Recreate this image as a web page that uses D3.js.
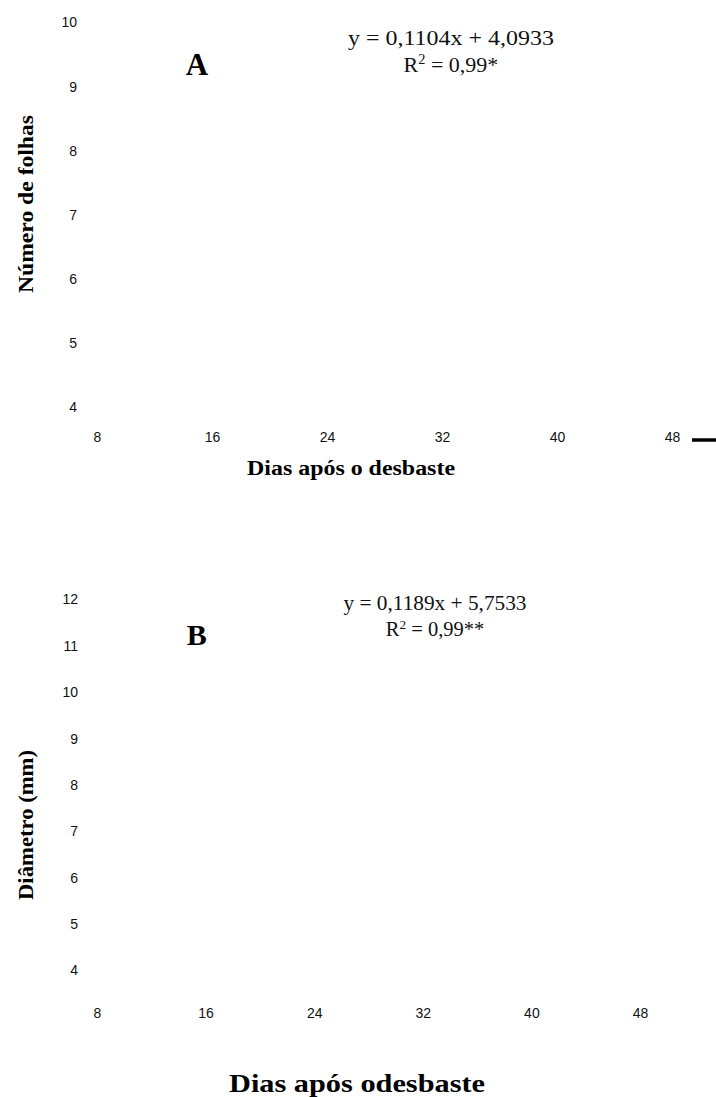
<!DOCTYPE html>
<html>
<head>
<meta charset="utf-8">
<script src="https://cdn.jsdelivr.net/npm/d3@7"></script>
<style>
  html, body { margin: 0; padding: 0; background: #fff; }
  svg { display: block; }
</style>
</head>
<body>
<svg id="chart" width="716" height="1097"></svg>
<script>
// ---- data ----
const xTicks = [8, 16, 24, 32, 40, 48];
const yTicksA = [4, 5, 6, 7, 8, 9, 10];
const yTicksB = [4, 5, 6, 7, 8, 9, 10, 11, 12];
const panelLabels = ["A", "B"];
const equations = ["y = 0,1104x + 4,0933", "y = 0,1189x + 5,7533"];
const r2Labels = ["0,99*", "0,99**"];
const yTitles = ["Número de folhas", "Diâmetro (mm)"];
const xTitles = ["Dias após o desbaste", "Dias após odesbaste"];

const svg = d3.select("#chart");
const serif = "'Liberation Serif', 'Times New Roman', serif";
const sans = "'Liberation Sans', Arial, Helvetica, sans-serif";

function panel(cfg) {
  const x = d3.scaleLinear().domain([8, 48]).range(cfg.xRange);
  const y = d3.scaleLinear().domain(cfg.yDomain).range(cfg.yRange);

  // y axis (labels only)
  const gy = svg.append("g")
    .attr("transform", `translate(${cfg.yAxisX},0)`)
    .call(d3.axisLeft(y).tickValues(cfg.yTicks).tickSize(0).tickPadding(0).tickFormat(d3.format("d")));
  gy.select(".domain").remove();
  gy.selectAll("text").attr("font-family", sans).attr("font-size", 14).attr("fill", "#111").attr("dy", "0.35em");

  // x axis (labels only)
  const gx = svg.append("g")
    .attr("transform", `translate(0,${cfg.xAxisY})`)
    .call(d3.axisBottom(x).tickValues(xTicks).tickSize(0).tickPadding(0).tickFormat(d3.format("d")));
  gx.select(".domain").remove();
  gx.selectAll("text").attr("font-family", sans).attr("font-size", 14).attr("fill", "#111").attr("dy", "0.35em").attr("y", 0);

  // panel letter
  svg.append("text")
    .attr("x", x(cfg.letterAt[0])).attr("y", y(cfg.letterAt[1]))
    .attr("text-anchor", "middle")
    .attr("font-family", serif).attr("font-weight", "bold").attr("font-size", cfg.letterSize)
    .text(cfg.letter);

  // equation
  svg.append("text")
    .attr("x", cfg.eqX).attr("y", cfg.eqY)
    .attr("text-anchor", "middle")
    .attr("font-family", serif).attr("font-size", cfg.eqSize).attr("fill", "#111")
    .attr("textLength", cfg.eqLen).attr("lengthAdjust", "spacingAndGlyphs")
    .text(cfg.equation);
  const r2 = svg.append("text")
    .attr("x", cfg.eqX).attr("y", cfg.eqY + cfg.eqGap)
    .attr("text-anchor", "middle")
    .attr("font-family", serif).attr("font-size", cfg.eqSize).attr("fill", "#111");
  r2.append("tspan").text("R");
  r2.append("tspan").attr("baseline-shift", "super").attr("font-size", cfg.eqSize * 0.65).text("2");
  r2.append("tspan").text(" = " + cfg.r2);

  // y title
  svg.append("text")
    .attr("transform", `translate(${cfg.yTitleX},${cfg.yTitleY}) rotate(-90)`)
    .attr("text-anchor", "middle")
    .attr("font-family", serif).attr("font-weight", "bold").attr("font-size", cfg.yTitleSize)
    .attr("textLength", cfg.yTitleLen).attr("lengthAdjust", "spacingAndGlyphs")
    .text(cfg.yTitle);

  // x title
  svg.append("text")
    .attr("x", cfg.xTitleX).attr("y", cfg.xTitleY)
    .attr("text-anchor", "middle")
    .attr("font-family", serif).attr("font-weight", "bold").attr("font-size", cfg.xTitleSize)
    .attr("textLength", cfg.xTitleLen).attr("lengthAdjust", "spacingAndGlyphs")
    .text(cfg.xTitle);

  return { x, y };
}

const A = panel({
  xRange: [97, 672], yDomain: [4, 10], yRange: [407, 22], yTicks: yTicksA,
  yAxisX: 77, xAxisY: 437,
  letter: panelLabels[0], letterAt: [14.95, 9.17], letterSize: 31,
  equation: equations[0], r2: r2Labels[0], eqX: 451, eqY: 45, eqSize: 22, eqLen: 206, eqGap: 27,
  yTitle: yTitles[0], yTitleX: 33, yTitleY: 204, yTitleSize: 21, yTitleLen: 178,
  xTitle: xTitles[0], xTitleX: 351, xTitleY: 475, xTitleSize: 20.5, xTitleLen: 208
});

// short black legend stroke to the right of the last tick
svg.append("line")
  .attr("x1", A.x(48) + 20).attr("x2", 716)
  .attr("y1", 440).attr("y2", 440)
  .attr("stroke", "#000").attr("stroke-width", 3.5);

panel({
  xRange: [97, 640], yDomain: [4, 12], yRange: [970, 599], yTicks: yTicksB,
  yAxisX: 78, xAxisY: 1013,
  letter: panelLabels[1], letterAt: [15.35, 11.01], letterSize: 30,
  equation: equations[1], r2: r2Labels[1], eqX: 435, eqY: 610, eqSize: 20.5, eqLen: 183, eqGap: 26,
  yTitle: yTitles[1], yTitleX: 33, yTitleY: 825, yTitleSize: 21, yTitleLen: 150,
  xTitle: xTitles[1], xTitleX: 357, xTitleY: 1092, xTitleSize: 26, xTitleLen: 256
});
</script>
</body>
</html>
